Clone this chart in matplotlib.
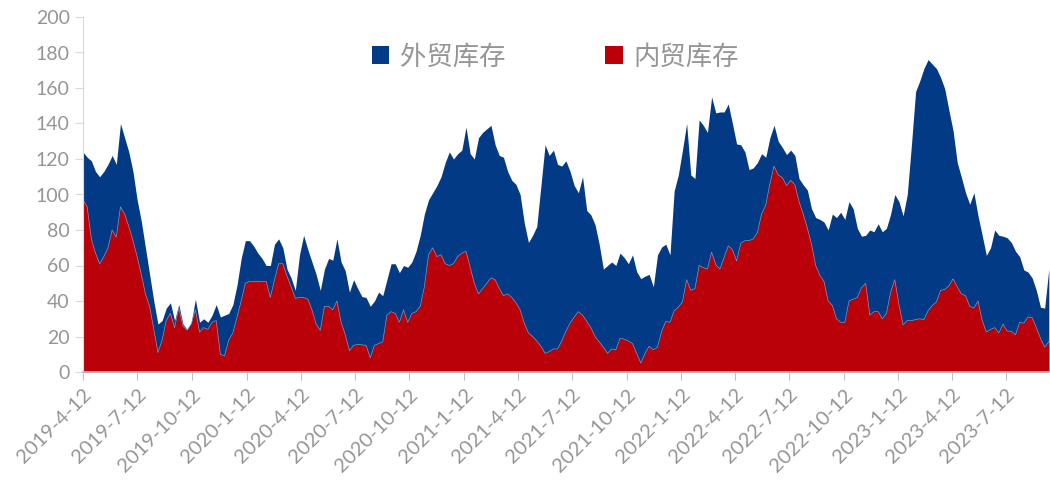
import pandas as pd
import matplotlib
matplotlib.use('Agg')
import matplotlib.pyplot as plt
from matplotlib.patches import Patch

# ── Data (weekly, starting 2019-4-12) ─────────────────────────────────────────

START_DATE = "2019-04-12"

# top of the stack = domestic + foreign inventory
total_stock = [
    124, 121, 119, 113, 110, 113, 117, 122, 117, 140, 132, 124, 113, 97, 85, 70, 55,
    40, 27, 29, 36, 39, 29, 38, 27, 24, 28, 41, 28, 30, 28, 32, 38,
    31, 32, 33, 38, 49, 64, 74, 74, 71, 67, 64, 60, 60, 72, 75, 70, 58, 53, 46, 66,
    77, 69, 62, 55, 46, 58, 64, 63, 75, 62, 57, 45, 52,
    47, 42.5, 42, 37, 40, 45, 43, 52, 61, 61, 56, 60, 59, 62, 68, 77, 89, 97, 101,
    105, 110, 118, 124, 120, 123, 125, 138, 123, 120, 132, 135, 137, 139,
    128, 122, 121, 113, 108, 105.7, 100, 84, 73, 77, 82, 105, 128, 122, 125, 117,
    116, 119, 113, 105, 101, 110, 91, 88.5, 83, 72, 58, 60, 62, 60, 67, 64.5, 61,
    66, 56.5, 52.6, 54, 55, 48, 66, 70.4, 72, 66, 102, 111, 125, 140, 111, 109, 142,
    139, 135, 155, 146, 146.5, 146.5, 151, 140, 128.5, 128, 124, 114, 115, 118, 123,
    121, 132,
    139, 130, 126.5, 122.5, 125, 122, 109, 105.5, 102.5, 92, 87, 86, 84.5, 80, 89,
    87, 90, 86, 96, 92, 81, 76.5, 77, 80, 79, 83.5, 79, 81, 89, 100, 96, 88, 100,
    128, 158, 164, 171, 176, 173.5, 171, 166, 159.6, 147.5, 136, 118, 109.7, 101,
    94.5, 101, 88, 77, 65.7, 70, 80, 77, 76.5, 75.6, 73, 68, 65, 57.5, 56.3, 53, 46,
    36.5, 36, 58,
]

domestic_stock = [
    97, 93, 75, 67, 61, 65, 70, 80, 76, 93, 89, 82, 74, 65, 55, 44, 37, 24, 11, 18,
    29, 33, 25, 36, 26, 23.5, 27, 35, 22.5, 25, 24, 28, 29,
    10, 9, 18, 22, 31, 40, 50, 51, 51, 51, 51, 51, 42, 52, 61, 61, 54, 48, 41.5, 42,
    42, 41, 35, 27, 23.5, 37, 37, 35, 40, 28, 21, 12, 15,
    15.5, 15.3, 15, 8, 15, 16, 17, 32, 34, 33, 28, 35, 28, 33, 34, 37, 48, 66, 70,
    65, 66, 61, 60, 61, 65, 67, 68, 59, 50, 44, 47, 50, 53,
    52, 47, 43, 44, 42, 39, 35, 27.5, 22, 20, 17.5, 14.5, 10.5, 11.5, 13, 13, 17.5,
    23, 27.5, 31, 34, 32, 28.5, 25, 20, 17, 14, 10.5, 13, 12.5, 19, 18.5, 17.5,
    16, 10.5, 5, 10.5, 14.5, 12.5, 14, 23, 28.5, 28, 34.5, 36.5, 39.5, 52, 46, 47,
    60, 58.8, 58, 67.5, 60.5, 58, 64.5, 71, 69, 62.5, 72.5, 74, 74, 75, 78.5, 89,
    94, 106,
    116, 111, 109.5, 105, 108, 105.5, 96, 89, 81, 72, 60, 54.5, 51, 40, 37.5, 30,
    28, 28, 40, 41, 42, 47.5, 50, 32, 34, 34, 30, 33, 45, 52, 38, 26.5, 29,
    29, 29.5, 30, 29.5, 34.5, 37.5, 39.5, 46, 46.5, 48.5, 52.5, 48, 44, 43, 37, 36,
    40, 29, 22.5, 24, 25, 22, 27, 23, 23, 21, 28, 27.5, 31, 30.5, 25, 19, 14, 17,
]

series_labels = ["外贸库存", "内贸库存"]
tick_labels = [
    "2019-4-12", "2019-7-12", "2019-10-12", "2020-1-12", "2020-4-12", "2020-7-12",
    "2020-10-12", "2021-1-12", "2021-4-12", "2021-7-12", "2021-10-12", "2022-1-12",
    "2022-4-12", "2022-7-12", "2022-10-12", "2023-1-12", "2023-4-12", "2023-7-12",
]

# ── Style ─────────────────────────────────────────────────────────────────────

BLUE = "#033A85"
RED  = "#BA0008"
GREY = "#959595"

plt.rcParams["font.family"] = ["Lato", "Noto Sans CJK SC", "DejaVu Sans"]

dates = pd.date_range(START_DATE, periods=len(total_stock), freq="7D")
tick_dates = pd.to_datetime(tick_labels, format="%Y-%m-%d")

fig = plt.figure(figsize=(10.5, 4.86), dpi=100)
ax = fig.add_axes([83 / 1050, 114 / 486, 967 / 1050, 355 / 486])

ax.fill_between(dates, 0, total_stock, color=BLUE, linewidth=0)
ax.fill_between(dates, 0, domestic_stock, color=RED, linewidth=0)
ax.plot(dates, domestic_stock, color="#8c95b5", linewidth=0.5)

ax.set_ylim(0, 200)
ax.set_yticks(range(0, 201, 20))
ax.set_xlim(dates[0], dates[-1] + pd.Timedelta(days=2))
ax.set_xticks(tick_dates)
ax.set_xticklabels(tick_labels, rotation=45, ha="right", rotation_mode="anchor")

for s in ["top", "right"]:
    ax.spines[s].set_visible(False)
ax.spines["left"].set_color("#d9d9d9")
ax.spines["bottom"].set_color("#bfbfbf")
ax.spines["bottom"].set_linewidth(1.2)
ax.tick_params(axis="y", colors="#d9d9d9", labelcolor=GREY, labelsize=14, length=6)
ax.tick_params(axis="x", colors="#bfbfbf", labelcolor=GREY, labelsize=14.5,
               length=6, pad=4)

handles = [Patch(facecolor=BLUE), Patch(facecolor=RED)]
fig.legend(handles, series_labels, loc="center left",
           bbox_to_anchor=(372 / 1050, 1 - 57 / 486), ncol=2, frameon=False,
           prop={"family": ["Noto Sans CJK SC"], "size": 19}, labelcolor=GREY,
           handlelength=0.65, handleheight=0.65, handletextpad=0.4,
           columnspacing=3.8, borderpad=0, borderaxespad=0)

fig.savefig("out.png", dpi=100)
